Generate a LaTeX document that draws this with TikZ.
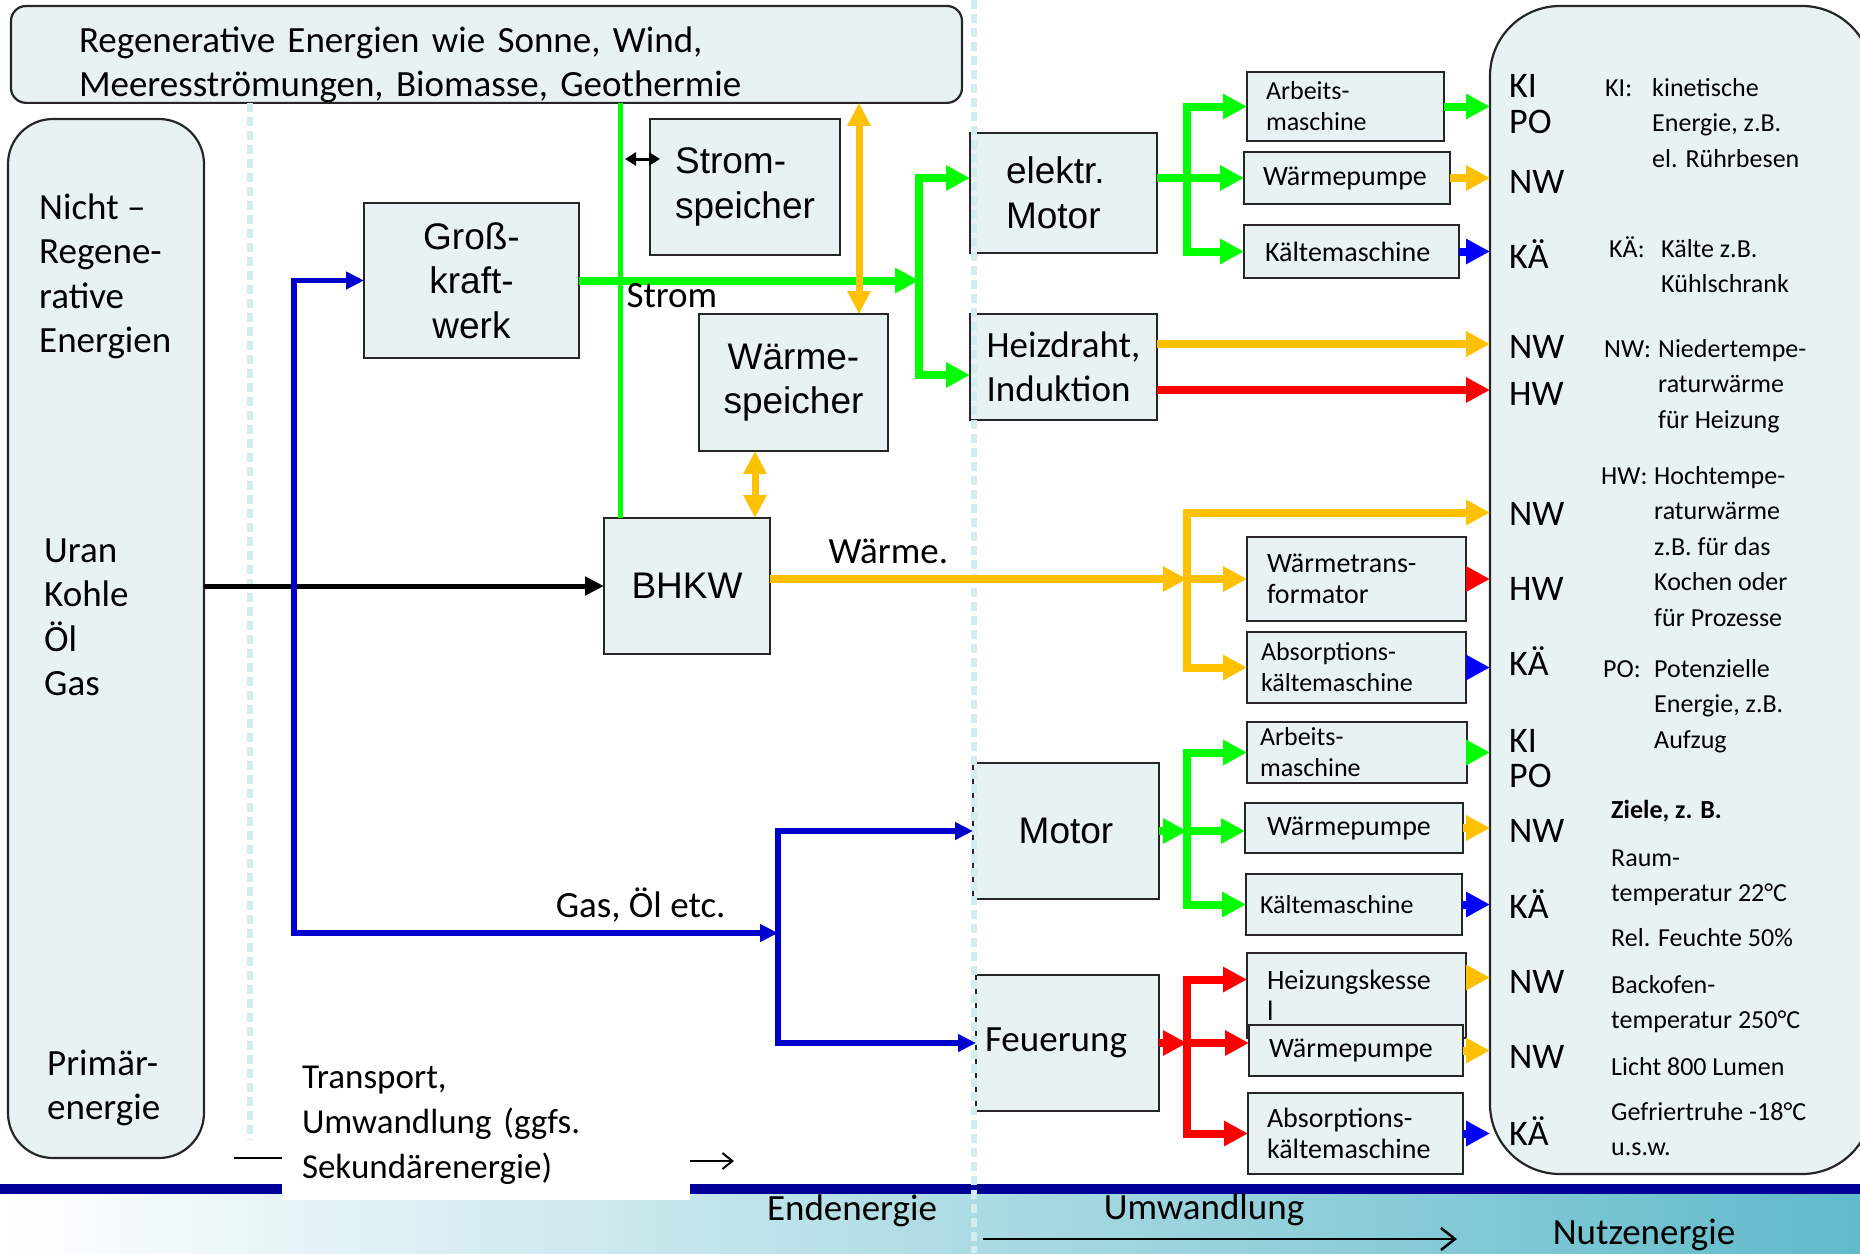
\documentclass[tikz,border=0pt]{standalone}
\usepackage{fontspec}
\setmainfont{Carlito}
\newfontfamily\arialfont{Liberation Sans}
\usetikzlibrary{arrows.meta}

\definecolor{boxfill}{RGB}{233,242,242}
\definecolor{boxline}{RGB}{38,38,38}
\definecolor{sepcyan}{RGB}{210,236,239}
\definecolor{flowgreen}{RGB}{0,255,0}
\definecolor{floworange}{RGB}{255,192,0}
\definecolor{flowred}{RGB}{255,0,0}
\definecolor{flowblue}{RGB}{0,0,255}
\definecolor{gasblue}{RGB}{0,0,204}
\definecolor{bandnavy}{RGB}{0,0,153}
\definecolor{bandteal}{RGB}{96,186,202}

\begin{document}
\begin{tikzpicture}[x=1pt, y=-1pt,
    box/.style={draw=boxline, line width=2.2pt, fill=boxfill, anchor=north west, outer sep=0pt},
    bigtext/.style={font=\arialfont\fontsize{37}{44.5}\selectfont},
    captext/.style={font=\fontsize{37}{44.5}\selectfont},
    unittext/.style={font=\fontsize{28}{31}\selectfont},
    smalltext/.style={font=\fontsize{26}{31}\selectfont},
    code/.style={font=\fontsize{36}{43}\selectfont, anchor=base west, inner sep=0pt, text height=25pt, text depth=0pt},
    desc/.style={font=\fontsize{26}{35.5}\selectfont, inner sep=0pt, align=left},
    flow/.style={line width=8pt, -{Triangle[length=24pt, width=24pt]}},
    gflow/.style={flow, draw=flowgreen},
    oflow/.style={flow, draw=floworange},
    rflow/.style={flow, draw=flowred},
    bflow/.style={flow, draw=flowblue},
    gline/.style={draw=flowgreen, line width=5pt},
    gasflow/.style={draw=gasblue, line width=5.5pt, -{Triangle[length=18pt, width=17pt]}},
    pflow/.style={draw=black, line width=5pt, -{Triangle[length=19pt, width=18pt]}},
    oboth/.style={draw=floworange, line width=7pt, {Triangle[length=23pt, width=22pt]}-{Triangle[length=23pt, width=22pt]}},
    stub/.style={draw=black, line width=3pt, {Triangle[length=11pt, width=13pt]}-{Triangle[length=11pt, width=13pt]}},
    sepline/.style={draw=sepcyan, line width=6pt, dash pattern=on 9pt off 5pt}]
  \useasboundingbox (0,0) rectangle (1860,1253);
  \clip (0,0) rectangle (1860,1253);

  % Band at the bottom
  \fill[left color=white, right color=bandteal] (0,1194) rectangle (1860,1253);
  \draw[draw=bandnavy, line width=10pt] (0,1189) -- (1860,1189);

  % Frames
  \node[box, rounded corners=15pt, captext, align=left, text width=815pt, inner xsep=68pt, inner ysep=0pt] (regen) at (11,6)
    {\rule{0pt}{46pt}Regenerative Energien wie Sonne, Wind,\\Meeresströmungen, Biomasse, Geothermie};
  \node[box, rounded corners=45pt, minimum width=196pt, minimum height=1039pt] (prim) at (8,119) {};
  \node[box, rounded corners=70pt, minimum width=382pt, minimum height=1168pt] (nutz) at (1490,6) {};

  % Nodes (plants)
  \node[box, bigtext, align=center, minimum width=215pt, minimum height=155pt] (gkw) at (364,203) {Groß-\\kraft-\\werk};
  \node[box, bigtext, align=left, minimum width=190pt, minimum height=136pt] (strsp) at (650,119) {Strom-\\speicher};
  \node[box, bigtext, align=center, minimum width=189pt, minimum height=137pt] (wsp) at (699,314) {Wärme-\\speicher};
  \node[box, bigtext, minimum width=166pt, minimum height=136pt] (bhkw) at (604,518) {BHKW};
  \node[box, bigtext, align=left, text width=115pt, inner xsep=36pt, minimum height=120pt] (emot) at (970,133) {elektr.\\Motor};
  \node[box, captext, align=left, minimum width=187pt, minimum height=106pt] (heiz) at (970,314) {Heizdraht,\\Induktion};
  \node[box, bigtext, minimum width=186pt, minimum height=136pt] (mot) at (973,763) {Motor};
  \node[box, captext, align=left, text width=165pt, inner xsep=9pt, minimum height=136pt] (feu) at (976,975) {Feuerung};

  % Nodes (end devices)
  \node[box, smalltext, align=left, text width=159pt, inner xsep=19pt, minimum height=69pt] (am1) at (1247,72) {Arbeits-\\maschine};
  \node[box, unittext, align=left, text width=168pt, inner xsep=19pt, minimum height=52pt] (wp1) at (1244,152) {Wärmepumpe};
  \node[box, unittext, align=left, text width=173pt, inner xsep=21pt, minimum height=53pt] (km1) at (1244,225) {Kältemaschine};
  \node[box, unittext, align=left, text width=179pt, inner xsep=20pt, minimum height=84pt] (wt) at (1247,537) {Wärmetrans-\\formator};
  \node[box, smalltext, align=left, text width=191pt, inner xsep=14pt, minimum height=71pt] (abs1) at (1247,632) {Absorptions-\\kältemaschine};
  \node[box, smalltext, align=left, text width=194pt, inner xsep=13pt, minimum height=61pt] (am2) at (1247,722) {Arbeits-\\maschine};
  \node[box, unittext, align=left, text width=174pt, inner xsep=22pt, minimum height=50pt] (wp2) at (1245,803) {Wärmepumpe};
  \node[box, smalltext, align=left, text width=188pt, inner xsep=14pt, minimum height=61pt] (km2) at (1246,874) {Kältemaschine};
  \node[box, unittext, align=left, text width=179pt, inner xsep=20pt, minimum height=85pt] (kessel) at (1247,953) {Heizungskesse\\l};
  \node[box, unittext, align=left, text width=174pt, inner xsep=20pt, minimum height=51pt] (wp3) at (1249,1025) {Wärmepumpe};
  \node[box, unittext, align=left, text width=177pt, inner xsep=19pt, minimum height=81pt] (abs2) at (1248,1093) {Absorptions-\\kältemaschine};

  % Texts in the frames
  \node[captext, align=left, anchor=north west, inner sep=0pt] (nichtlbl) at (39,188) {\strut Nicht –\\Regene-\\rative\\Energien};
  \node[captext, align=left, anchor=north west, inner sep=0pt] (fossil) at (44,531) {\strut Uran\\Kohle\\Öl\\Gas};
  \node[captext, align=left, anchor=north west, inner sep=0pt] (primlbl) at (47,1044) {\strut Primär-\\energie};
  \foreach \lbl/\yb [count=\i] in {KI/97, PO/133, NW/193, KÄ/268, NW/358, HW/405, NW/525, HW/600,
      KÄ/675, KI/752, PO/787, NW/842, KÄ/918, NW/993, NW/1068, KÄ/1145}
    \node[code] (c\i) at (1509,\yb) {\lbl};
  \node[desc, anchor=base west] (kikey) at (1605,96) {KI:};
  \node[desc, anchor=north west] (kibody) at (1652,71) {\strut kinetische\\Energie, z.B.\\el. Rührbesen};
  \node[desc, anchor=base west] (kakey) at (1609,257) {KÄ:};
  \node[desc, anchor=north west] (kabody) at (1661,232) {\strut Kälte z.B.\\Kühlschrank};
  \node[desc, anchor=base west] (nwkey) at (1604,357) {NW:};
  \node[desc, anchor=north west] (nwbody) at (1658,332) {\strut Niedertempe-\\raturwärme\\für Heizung};
  \node[desc, anchor=base west] (hwkey) at (1601,484) {HW:};
  \node[desc, anchor=north west] (hwbody) at (1654,459) {\strut Hochtempe-\\raturwärme\\z.B. für das\\Kochen oder\\für Prozesse};
  \node[desc, anchor=base west] (pokey) at (1603,677) {PO:};
  \node[desc, anchor=north west] (pobody) at (1654,652) {\strut Potenzielle\\Energie, z.B.\\Aufzug};
  \node[desc, font=\fontsize{26}{35}\selectfont, anchor=north west] (ziele) at (1611,793.5)
    {\strut\textbf{Ziele, z. B.}\\[13pt]Raum-\\temperatur 22°C\\[10pt]Rel. Feuchte 50\%\\[12pt]Backofen-\\temperatur 250°C\\[12pt]Licht 800 Lumen\\[10pt]Gefriertruhe -18°C\\u.s.w.};

  % Dashed separators
  \coordinate (cx1) at (250,1140);
  \coordinate (cx2t) at (974,0);
  \coordinate (cx2b) at (974,1253);
  \draw[sepline] (regen.south -| cx1) -- (cx1);
  \draw[sepline] (cx2t) -- (cx2b);

  % Transport note
  \node[anchor=north west, fill=white, font=\fontsize{35}{45}\selectfont, align=left, text width=368pt, inner xsep=20pt, inner ysep=0pt, outer sep=0pt] (trans) at (282,1056.5)
    {\strut Transport,\\Umwandlung (ggfs.\\Sekundärenergie)\rule[-22pt]{0pt}{0pt}};
  \coordinate (dashl) at (234,1158);
  \coordinate (arrr) at (734,1161);
  \draw[line width=2pt] (dashl) -- (dashl -| trans.west);
  \draw[line width=2pt, -{Straight Barb[length=10pt, width=16pt]}] (arrr -| trans.east) -- (arrr);

  % Band labels
  \node[captext, anchor=base] (endlbl) at (852,1220) {Endenergie};
  \node[captext, anchor=base] (uwlbl) at (1204,1219) {Umwandlung};
  \node[captext, anchor=base] (nutzlbl) at (1644,1244) {Nutzenergie};
  \coordinate (uwl) at (983,1239);
  \coordinate (uwr) at (1457,1239);
  \draw[line width=2.5pt, -{Straight Barb[length=14pt, width=22pt]}] (uwl) -- (uwr);

  % Helper coordinates
  \coordinate (gasx) at (294,0);
  \coordinate (gtap) at (620,0);
  \coordinate (otap) at (859,0);
  \coordinate (otap2) at (755,0);
  \coordinate (sbar) at (919,0);
  \coordinate (jx) at (1187,0);
  \coordinate (gasjoin) at (778,933);
  \coordinate (emin) at ([yshift=15pt]emot.west);
  \coordinate (emout) at ([yshift=15pt]emot.east);
  \coordinate (heizin) at ([yshift=-8pt]heiz.west);
  \coordinate (heizo) at ([yshift=23pt]heiz.east);
  \coordinate (heizr) at ([yshift=-23pt]heiz.east);
  \coordinate (bhout) at ([yshift=7pt]bhkw.east);
  \coordinate (kesin) at ([yshift=16pt]kessel.west);
  \coordinate (keso) at ([yshift=18pt]kessel.east);
  \coordinate (stubr) at ([yshift=28pt]strsp.west);

  % Arrows (primary energy)
  \draw[pflow] (prim.east |- bhkw) -- (bhkw);
  \draw[gasflow] (gasx |- bhkw) |- (gkw);
  \draw[gasflow] (gasx |- bhkw) |- (gasjoin);
  \draw[gasflow] (gasjoin) |- (mot);
  \draw[gasflow] (gasjoin) |- (feu);

  % Arrows (power)
  \draw[gflow] (gkw) -- (sbar |- gkw);
  \draw[gflow] (sbar |- gkw) |- (emin);
  \draw[gflow] (sbar |- gkw) |- (heizin);
  \draw[gline] (regen.south -| gtap) -- (bhkw.north -| gtap);
  \draw[stub, shorten <=5pt, shorten >=-10pt] (stubr -| gtap) -- (stubr);
  \draw[oboth] (regen.south -| otap) -- (wsp.north -| otap);
  \draw[oboth] (wsp.south -| otap2) -- (bhkw.north -| otap2);
  \node[captext, anchor=base west] (stromlbl) at (623,307) {Strom};
  \node[captext, anchor=base west] (waermelbl) at (825,563) {Wärme.};
  \node[captext, anchor=base east] (gaslbl) at (729,917) {Gas, Öl etc.};

  % Arrows (elektr. Motor)
  \draw[gflow] (emout) -- (wp1);
  \draw[gflow] (emout -| jx) |- (am1);
  \draw[gflow] (emout -| jx) |- (km1);
  \draw[gflow] (am1) -- (am1 -| nutz.west);
  \draw[oflow] (wp1) -- (wp1 -| nutz.west);
  \draw[bflow] (km1) -- (km1 -| nutz.west);

  % Arrows (Heizdraht)
  \draw[oflow] (heizo) -- (heizo -| nutz.west);
  \draw[rflow] (heizr) -- (heizr -| nutz.west);

  % Arrows (BHKW heat)
  \draw[oflow] (bhout) -- (bhout -| jx);
  \draw[oflow] (bhout -| jx) -- (wt);
  \draw[oflow] (bhout -| jx) |- (nutz.west |- c7);
  \draw[oflow] (bhout -| jx) |- (abs1);
  \draw[rflow] (wt) -- (wt -| nutz.west);
  \draw[bflow] (abs1) -- (abs1 -| nutz.west);

  % Arrows (Motor)
  \draw[gflow] (mot) -- (mot -| jx);
  \draw[gflow] (mot -| jx) -- (mot -| wp2.west);
  \draw[gflow] (mot -| jx) |- (am2);
  \draw[gflow] (mot -| jx) |- (km2);
  \draw[gflow] (am2) -- (am2 -| nutz.west);
  \draw[oflow] (wp2) -- (wp2 -| nutz.west);
  \draw[bflow] (km2) -- (km2 -| nutz.west);

  % Arrows (Feuerung)
  \draw[rflow] (feu) -- (feu -| jx);
  \draw[rflow] (feu -| jx) -- (feu -| wp3.west);
  \draw[rflow] (feu -| jx) |- (kesin);
  \draw[rflow] (feu -| jx) |- (abs2);
  \draw[oflow] (keso) -- (keso -| nutz.west);
  \draw[oflow] (wp3) -- (wp3 -| nutz.west);
  \draw[bflow] (abs2) -- (abs2 -| nutz.west);
\end{tikzpicture}
\end{document}
